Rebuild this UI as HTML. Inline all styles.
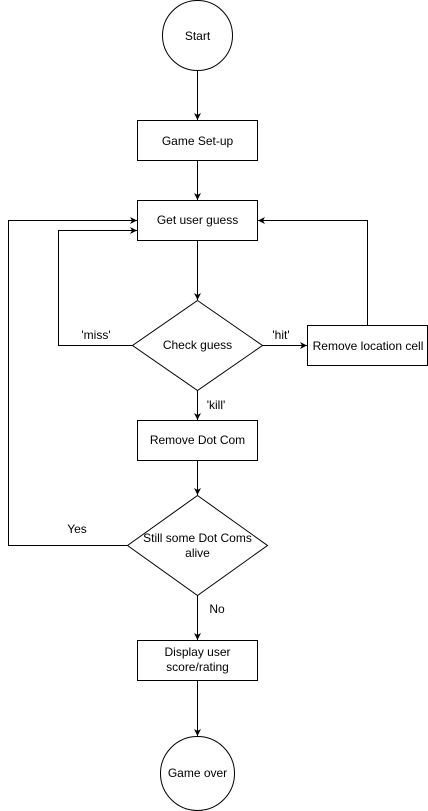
<!DOCTYPE html>
<html><head><style>body{margin:0;background:#fff}svg{display:block}text{font-family:"Liberation Sans",sans-serif;font-size:12px;fill:#000}</style></head><body>
<svg width="428" height="811" viewBox="0 0 428 811">
<defs><marker id="a" markerWidth="8" markerHeight="8" refX="7" refY="4" orient="auto" markerUnits="userSpaceOnUse"><path d="M0,0.5 L7,4 L0,7.5 L2,4z" fill="#000"/></marker></defs>
<g fill="#fff" stroke="#000" stroke-width="1">
<circle cx="197.5" cy="35.5" r="35"/>
<rect x="137.5" y="120.5" width="120" height="40"/>
<rect x="137.5" y="200.5" width="120" height="40"/>
<polygon points="197.5,300.5 262.5,345.5 197.5,390.5 132.5,345.5"/>
<rect x="307.5" y="325.5" width="120" height="40"/>
<rect x="137.5" y="420.5" width="120" height="40"/>
<polygon points="197.5,495.5 267.5,545.5 197.5,595.5 127.5,545.5"/>
<rect x="137.5" y="640.5" width="120" height="40"/>
<circle cx="197.5" cy="773.5" r="37"/>
</g>
<g fill="none" stroke="#000" stroke-width="1" marker-end="url(#a)">
<path d="M197.5 70.5V120"/>
<path d="M197.5 160.5V200"/>
<path d="M197.5 240.5V300"/>
<path d="M262.5 345.5H307"/>
<path d="M367.5 325.5V220.5H258"/>
<path d="M132.5 345.5H58.5V230.5H137"/>
<path d="M197.5 390.5V420"/>
<path d="M197.5 460.5V495"/>
<path d="M127.5 545.5H8.5V220.5H137"/>
<path d="M197.5 595.5V640"/>
<path d="M197.5 680.5V736"/>
</g>
<g text-anchor="middle">
<text x="197.5" y="40">Start</text>
<text x="197.5" y="145">Game Set-up</text>
<text x="197.5" y="224">Get user guess</text>
<text x="197.5" y="349">Check guess</text>
<text x="368" y="350">Remove location cell</text>
<text x="197.5" y="444">Remove Dot Com</text>
<text x="197.5" y="542">Still some Dot Coms</text>
<text x="197.5" y="557">alive</text>
<text x="197.5" y="656">Display user</text>
<text x="197.5" y="671">score/rating</text>
<text x="197.5" y="777">Game over</text>
<text x="96" y="339">'miss'</text>
<text x="281" y="339">'hit'</text>
<text x="216" y="409">'kill'</text>
<text x="77" y="533">Yes</text>
<text x="217" y="613">No</text>
</g>
</svg>
</body></html>
